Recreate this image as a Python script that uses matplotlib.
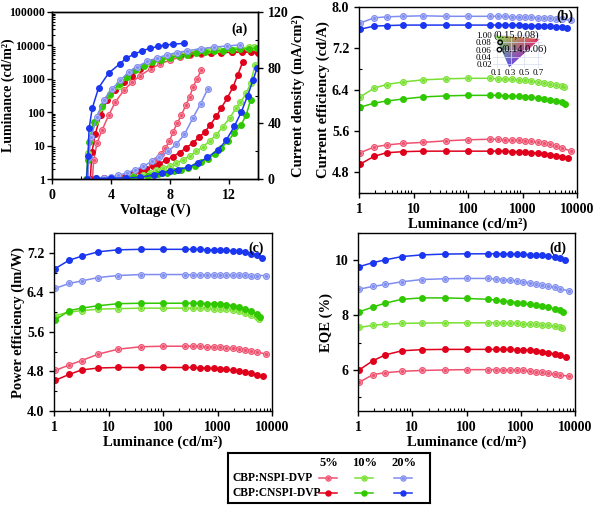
import numpy as np
import matplotlib
matplotlib.use('Agg')
import matplotlib.pyplot as plt
from matplotlib.patches import Polygon
from matplotlib.ticker import FixedLocator, MultipleLocator, NullFormatter

plt.rcParams['font.family'] = ['Liberation Serif', 'DejaVu Serif']
plt.rcParams['font.weight'] = 'bold'
plt.rcParams['axes.labelweight'] = 'bold'
plt.rcParams['axes.linewidth'] = 1.0

# ---- colours per series (5%, 10%, 20%) ----
col_open = ['#f0506e', '#78e030', '#7f8cf0']
face_open = ['#f7a8b8', '#b8f090', '#c0c8f8']
col_fill = ['#e0001b', '#30c800', '#1a36f0']

# ---- panel (a): luminance vs voltage ----
v_lum_open = [
    [2.75, 2.83, 3.06, 3.4, 3.85, 4.3, 4.88, 5.44, 6.0, 6.7, 7.37, 8.05, 8.73, 9.4, 10.1, 10.8, 11.5, 12.2, 12.9, 13.5, 13.9],
    [2.38, 2.43, 2.6, 2.95, 3.4, 3.97, 4.54, 5.1, 5.78, 6.46, 7.14, 7.8, 8.5, 9.2, 9.9, 10.6, 11.3, 12.0, 12.7, 13.4, 13.7],
    [2.45, 2.5, 2.65, 3.06, 3.5, 4.08, 4.65, 5.2, 5.78, 6.46, 7.14, 7.8, 8.5, 9.2, 10.1, 11.0, 11.9, 12.8],
]
lum_open = [
    [1, 3.6, 12, 29, 81, 200, 450, 800, 1250, 2000, 2800, 3700, 4400, 5100, 5600, 6000, 6300, 6500, 6600, 6700, 6700],
    [1, 6, 15, 52, 145, 320, 600, 1100, 2000, 2900, 3900, 4700, 5500, 6200, 6800, 7300, 7800, 8200, 8500, 8700, 8800],
    [1, 4.7, 18.5, 73, 230, 500, 900, 1600, 2300, 3300, 4200, 5200, 6100, 6900, 7900, 8900, 9600, 10400],
]
v_lum_fill = [
    [2.6, 2.72, 2.95, 3.3, 3.74, 4.3, 4.88, 5.44, 6.0, 6.7, 7.37, 8.05, 8.73, 9.4, 10.1, 10.8, 11.5, 12.2, 12.9, 13.5, 14.0],
    [2.33, 2.43, 2.52, 2.83, 3.4, 3.97, 4.54, 5.1, 5.67, 6.24, 6.8, 7.4, 8.0, 8.6, 9.2, 9.8, 10.4, 11.0, 11.6, 12.2, 12.8, 13.4, 13.9],
    [2.35, 2.45, 2.52, 2.74, 3.17, 3.85, 4.6, 5.06, 5.6, 6.12, 6.64, 7.19, 7.71, 8.23, 8.98],
]
lum_fill = [
    [1, 6.6, 23, 80, 230, 450, 800, 1250, 2000, 2800, 3700, 4400, 5000, 5500, 5800, 6000, 6100, 6200, 6200, 6200, 6100],
    [1, 3.7, 13, 52, 150, 360, 680, 1100, 1800, 2500, 3100, 3700, 4300, 4800, 5300, 5800, 6200, 6600, 7000, 7400, 7700, 8000, 8100],
    [1, 5, 33, 134, 540, 1480, 2780, 4200, 5500, 6900, 8100, 9300, 10200, 10900, 11500],
]

# ---- panel (a): current density vs voltage ----
v_j_open = [
    [3.0, 3.5, 4.0, 4.5, 5.0, 5.5, 6.0, 6.4, 6.8, 7.07, 7.38, 7.68, 7.97, 8.24, 8.5, 8.8, 9.09, 9.36, 9.58, 9.85, 10.14],
    [3.5, 4.5, 5.5, 6.2, 6.65, 7.1, 7.55, 8.0, 8.45, 8.9, 9.36, 9.8, 10.27, 10.72, 11.17, 11.6, 12.07, 12.5, 12.8, 13.2, 13.5, 13.8],
    [3.0, 3.5, 4.0, 4.5, 5.07, 5.64, 6.2, 6.77, 7.3, 7.9, 8.45, 9.0, 9.58, 10.1, 10.6],
]
j_open = [
    [0.3, 0.5, 0.8, 1.2, 1.8, 3.0, 4.8, 7.0, 11, 14, 18, 22, 27, 34, 40, 46, 53, 59, 66, 72, 78],
    [0.3, 0.8, 1.8, 3.2, 4.5, 6.2, 7.9, 9.5, 11.5, 13.8, 16.7, 19.8, 23.3, 27.4, 31.7, 37.6, 43.7, 51, 55, 61.5, 69, 82],
    [0.5, 0.9, 1.5, 2.6, 4.3, 6.7, 9.0, 12.6, 16, 20, 25, 32, 44, 54, 65],
]
v_j_fill = [
    [3.0, 3.5, 4.0, 4.5, 5.0, 5.5, 5.95, 6.4, 6.85, 7.3, 7.76, 8.2, 8.67, 9.13, 9.58, 10.0, 10.4, 10.76, 11.17, 11.5, 11.9, 12.3, 12.63, 12.96],
    [3.5, 4.5, 5.5, 6.5, 7.2, 7.8, 8.3, 8.8, 9.25, 9.7, 10.16, 10.6, 11.05, 11.5, 11.96, 12.4, 12.86, 13.2, 13.5],
    [3.0, 4.0, 5.0, 6.0, 6.9, 7.45, 8.0, 8.57, 9.25, 9.95, 10.56, 11.3, 11.85, 12.4, 12.86, 13.3, 13.66, 13.95],
]
j_fill = [
    [0.2, 0.4, 0.8, 1.5, 2.5, 4.0, 5.5, 7.0, 9.0, 11, 13.5, 16, 19, 22.5, 26, 30, 34, 39, 45, 51, 58, 66, 75, 84],
    [0.3, 0.6, 1.2, 2.2, 3.3, 4.5, 5.5, 6.4, 7.9, 9.7, 12, 14.5, 18, 22, 27.5, 33, 39, 46, 57],
    [0.5, 0.6, 0.8, 1.2, 2.8, 4.3, 5.4, 6.7, 8.6, 11.5, 15.5, 21, 28, 38, 48, 60, 71, 80],
]

# ---- panels (b)-(d): efficiencies vs luminance ----
lum_grid = [1.05, 1.9, 3.2, 6.5, 15, 40, 100, 250, 350, 480, 640, 850, 1100, 1450, 1900, 2500, 3200, 4200, 5400]
lum_end_open = [7800, 5800, 7800]
lum_end_fill = [6800, 6000, 6500]

ce_open = [
    [5.18, 5.29, 5.33, 5.36, 5.38, 5.41, 5.43, 5.44, 5.44, 5.43, 5.43, 5.42, 5.41, 5.40, 5.38, 5.36, 5.34, 5.31, 5.27, 5.21],
    [6.26, 6.43, 6.50, 6.55, 6.59, 6.61, 6.62, 6.62, 6.61, 6.61, 6.60, 6.59, 6.58, 6.57, 6.55, 6.53, 6.51, 6.49, 6.47, 6.45],
    [7.69, 7.79, 7.81, 7.82, 7.83, 7.82, 7.82, 7.82, 7.82, 7.82, 7.81, 7.81, 7.80, 7.80, 7.79, 7.79, 7.78, 7.77, 7.76, 7.74],
]
ce_fill = [
    [4.96, 5.11, 5.18, 5.20, 5.21, 5.21, 5.21, 5.21, 5.21, 5.21, 5.20, 5.20, 5.19, 5.18, 5.17, 5.15, 5.14, 5.12, 5.10, 5.08],
    [6.06, 6.14, 6.18, 6.22, 6.26, 6.28, 6.29, 6.29, 6.29, 6.28, 6.28, 6.27, 6.26, 6.25, 6.24, 6.22, 6.20, 6.18, 6.16, 6.13],
    [7.57, 7.63, 7.64, 7.65, 7.65, 7.65, 7.65, 7.65, 7.65, 7.65, 7.65, 7.65, 7.64, 7.64, 7.64, 7.63, 7.63, 7.62, 7.61, 7.60],
]
pe_open = [
    [4.82, 4.93, 5.02, 5.15, 5.25, 5.30, 5.31, 5.31, 5.31, 5.31, 5.30, 5.30, 5.29, 5.28, 5.27, 5.26, 5.24, 5.22, 5.19, 5.15],
    [5.93, 6.00, 6.03, 6.06, 6.07, 6.08, 6.08, 6.08, 6.08, 6.08, 6.08, 6.07, 6.07, 6.06, 6.04, 6.02, 5.99, 5.95, 5.91, 5.86],
    [6.48, 6.58, 6.63, 6.70, 6.74, 6.76, 6.76, 6.76, 6.75, 6.75, 6.75, 6.75, 6.75, 6.75, 6.75, 6.75, 6.75, 6.74, 6.74, 6.74],
]
pe_fill = [
    [4.62, 4.74, 4.83, 4.87, 4.88, 4.88, 4.88, 4.88, 4.88, 4.87, 4.87, 4.86, 4.85, 4.84, 4.82, 4.80, 4.78, 4.76, 4.73, 4.70],
    [5.84, 6.03, 6.08, 6.13, 6.17, 6.18, 6.18, 6.18, 6.18, 6.18, 6.17, 6.17, 6.16, 6.15, 6.13, 6.10, 6.06, 6.02, 5.97, 5.91],
    [6.88, 7.05, 7.13, 7.22, 7.26, 7.27, 7.27, 7.27, 7.27, 7.27, 7.26, 7.26, 7.25, 7.25, 7.24, 7.23, 7.21, 7.18, 7.15, 7.10],
]
eqe_open = [
    [5.55, 5.83, 5.90, 5.95, 5.98, 6.00, 6.01, 6.01, 6.01, 6.01, 6.00, 5.99, 5.98, 5.96, 5.94, 5.91, 5.88, 5.84, 5.81, 5.77],
    [7.55, 7.63, 7.67, 7.70, 7.71, 7.72, 7.72, 7.72, 7.72, 7.71, 7.71, 7.70, 7.69, 7.68, 7.67, 7.65, 7.63, 7.60, 7.57, 7.53],
    [8.95, 9.05, 9.12, 9.22, 9.30, 9.33, 9.34, 9.34, 9.32, 9.30, 9.28, 9.25, 9.22, 9.18, 9.14, 9.10, 9.06, 9.01, 8.96, 8.88],
]
eqe_fill = [
    [6.00, 6.34, 6.55, 6.70, 6.74, 6.75, 6.75, 6.75, 6.75, 6.75, 6.75, 6.74, 6.73, 6.72, 6.70, 6.67, 6.63, 6.58, 6.53, 6.46],
    [8.12, 8.30, 8.44, 8.58, 8.63, 8.63, 8.61, 8.58, 8.55, 8.52, 8.49, 8.46, 8.43, 8.40, 8.36, 8.32, 8.28, 8.23, 8.18, 8.13],
    [9.77, 9.92, 10.02, 10.14, 10.20, 10.23, 10.24, 10.24, 10.24, 10.24, 10.23, 10.23, 10.22, 10.21, 10.20, 10.18, 10.15, 10.12, 10.07, 10.00],
]

# CIE inset
cie_x = [0.15, 0.14]
cie_y = [0.08, 0.06]
cie_labels = ['(0.15,0.08)', '(0.14,0.06)']
tri_x = [0.075, 0.72, 0.28]
tri_y = [0.100, 0.089, 0.012]

concs = ['5%', '10%', '20%']
rows = ['CBP:NSPI-DVP', 'CBP:CNSPI-DVP']

W, H = 600, 505
fig = plt.figure(figsize=(6.0, 5.05), dpi=100)


def box(l, t, r, b):
    return [l / W, 1 - b / H, (r - l) / W, (b - t) / H]


def draw(ax, x, y, i, is_open, ms=4.2):
    if is_open:
        ax.plot(x, y, '-o', color=col_open[i], lw=1.1, ms=ms, mfc=face_open[i],
                mec=col_open[i], mew=0.8)
        ax.plot(x, y, 'o', color=col_open[i], ms=ms * 0.32, lw=0)
    else:
        ax.plot(x, y, '-o', color=col_fill[i], lw=1.1, ms=ms * 0.95, mfc=col_fill[i],
                mec=col_fill[i])


def style(ax):
    ax.tick_params(which='major', direction='out', length=3.5, width=1, labelsize=10)
    ax.tick_params(which='minor', direction='in', length=2, width=0.8)


def lum_axis(ax):
    ax.set_xscale('log')
    ax.set_xlim(1, 10000)
    ax.xaxis.set_major_locator(FixedLocator([1, 10, 100, 1000, 10000]))
    ax.set_xticklabels(['1', '10', '100', '1000', '10000'])
    ax.xaxis.set_minor_formatter(NullFormatter())
    ax.set_xlabel('Luminance (cd/m²)', fontsize=10.5, labelpad=1)


# ---- (a) ----
ax = fig.add_axes(box(52, 12, 258, 179))
ax2 = ax.twinx()
for i in range(3):
    draw(ax, v_lum_open[i], lum_open[i], i, True)
    draw(ax, v_lum_fill[i], lum_fill[i], i, False)
    draw(ax2, v_j_open[i], j_open[i], i, True)
    draw(ax2, v_j_fill[i], j_fill[i], i, False)
ax.set_yscale('log')
ax.set_ylim(1, 100000)
ax.set_xlim(0, 14)
ax.yaxis.set_major_locator(FixedLocator([1, 10, 100, 1000, 10000, 100000]))
ax.set_yticklabels(['1', '10', '100', '1000', '10000', '100000'])
ax.yaxis.set_minor_formatter(NullFormatter())
ax.xaxis.set_major_locator(MultipleLocator(4))
ax.xaxis.set_minor_locator(MultipleLocator(2))
ax2.set_ylim(0, 120)
ax2.yaxis.set_major_locator(MultipleLocator(40))
ax2.yaxis.set_minor_locator(MultipleLocator(20))
ax.set_xlabel('Voltage (V)', fontsize=10.5, labelpad=1)
ax.set_ylabel('Luminance (cd/m²)', fontsize=10)
ax.yaxis.set_label_coords(-0.178, 0.5)
ax2.set_ylabel('Current density (mA/cm²)', fontsize=10.5, labelpad=2)
style(ax)
style(ax2)
ax.tick_params(axis='y', which='major', labelsize=8.5, pad=1.5)
ax.text(0.95, 0.94, '(a)', transform=ax.transAxes, ha='right', va='top', fontsize=10)

# ---- (b) ----
axb = fig.add_axes(box(359, 7, 577, 193))
for i in range(3):
    draw(axb, lum_grid + [lum_end_open[i]], ce_open[i], i, True)
    draw(axb, lum_grid + [lum_end_fill[i]], ce_fill[i], i, False)
lum_axis(axb)
axb.set_ylim(4.4, 8.0)
axb.set_yticks([4.8, 5.6, 6.4, 7.2, 8.0])
axb.set_yticklabels(['4.8', '5.6', '6.4', '7.2', '8.0'])
axb.yaxis.set_minor_locator(MultipleLocator(0.4))
axb.set_ylabel('Current efficiency (cd/A)', fontsize=10.5, labelpad=1)
style(axb)
axb.text(0.985, 0.985, '(b)', transform=axb.transAxes, ha='right', va='top', fontsize=10)

# CIE inset
axi = fig.add_axes(box(493.2, 33.2, 541.8, 68))
axi.set_xlim(0.05, 0.75)
axi.set_ylim(0.01, 0.105)
gx, gy = np.meshgrid(np.linspace(0.05, 0.75, 120), np.linspace(0.01, 0.105, 80))
det = (tri_y[1] - tri_y[2]) * (tri_x[0] - tri_x[2]) + (tri_x[2] - tri_x[1]) * (tri_y[0] - tri_y[2])
w0 = ((tri_y[1] - tri_y[2]) * (gx - tri_x[2]) + (tri_x[2] - tri_x[1]) * (gy - tri_y[2])) / det
w1 = ((tri_y[2] - tri_y[0]) * (gx - tri_x[2]) + (tri_x[0] - tri_x[2]) * (gy - tri_y[2])) / det
w2 = 1 - w0 - w1
rgb = np.clip(np.stack([0.95 * w1 + 0.55 * w0 + 0.35 * w2,
                        0.9 * w0 + 0.2 * w1 + 0.3 * w2,
                        0.3 * w0 + 0.35 * w1 + 0.95 * w2], axis=-1), 0, 1)
img = axi.imshow(rgb, extent=(0.05, 0.75, 0.01, 0.105), origin='lower', aspect='auto', zorder=1)
tri = Polygon(np.column_stack([tri_x, tri_y]), closed=True, transform=axi.transData, fc='none', ec='none')
axi.add_patch(tri)
img.set_clip_path(tri)
axi.scatter(cie_x, cie_y, s=10, facecolors='none', edgecolors='black', linewidths=1.0, zorder=3)
axi.text(0.055, 0.0985, cie_labels[0], fontsize=7.5, weight='normal', va='center', zorder=4)
axi.text(0.165, cie_y[1], cie_labels[1], fontsize=7.5, weight='normal', va='center', zorder=4)
axi.set_xticks([0.1, 0.3, 0.5, 0.7])
axi.set_xticklabels(['0.1', '0.3', '0.5', '0.7'])
axi.set_yticks([0.02, 0.04, 0.06, 0.08, 0.10])
axi.set_yticklabels(['0.02', '0.04', '0.06', '0.08', '1.00'])
axi.tick_params(length=0, labelsize=6.5, pad=1)
for t in axi.get_xticklabels() + axi.get_yticklabels():
    t.set_fontweight('normal')
axi.grid(color='#d8dcf0', lw=0.5)
for s in axi.spines.values():
    s.set_visible(False)
axi.patch.set_alpha(0)

# ---- (c) ----
axc = fig.add_axes(box(54, 233, 272, 411))
for i in range(3):
    draw(axc, lum_grid + [lum_end_open[i]], pe_open[i], i, True)
    draw(axc, lum_grid + [lum_end_fill[i]], pe_fill[i], i, False)
lum_axis(axc)
axc.set_ylim(4.0, 7.6)
axc.set_yticks([4.0, 4.8, 5.6, 6.4, 7.2])
axc.yaxis.set_minor_locator(MultipleLocator(0.4))
axc.set_ylabel('Power efficiency (lm/W)', fontsize=10.5, labelpad=1)
style(axc)
axc.text(0.96, 0.95, '(c)', transform=axc.transAxes, ha='right', va='top', fontsize=10)

# ---- (d) ----
axd = fig.add_axes(box(358, 233, 575, 411))
for i in range(3):
    draw(axd, lum_grid + [lum_end_open[i]], eqe_open[i], i, True)
    draw(axd, lum_grid + [lum_end_fill[i]], eqe_fill[i], i, False)
lum_axis(axd)
axd.set_ylim(4.5, 11.0)
axd.set_yticks([6, 8, 10])
axd.yaxis.set_minor_locator(MultipleLocator(1))
axd.set_ylabel('EQE (%)', fontsize=10.5, labelpad=1)
style(axd)
axd.text(0.96, 0.95, '(d)', transform=axd.transAxes, ha='right', va='top', fontsize=10)

# ---- legend box ----
axl = fig.add_axes(box(228, 453, 430, 503))
axl.set_xlim(0, 1)
axl.set_ylim(0, 1)
axl.set_xticks([])
axl.set_yticks([])
for s in axl.spines.values():
    s.set_linewidth(1.5)
col_x = [0.495, 0.673, 0.866]
row_y = [0.50, 0.20]
for k, c in enumerate(concs):
    axl.text(col_x[k] + 0.005, 0.80, c, ha='center', va='center', fontsize=9)
for r, name in enumerate(rows):
    axl.text(0.02, row_y[r], name, ha='left', va='center', fontsize=8.3)
    for k in range(3):
        axl.plot([col_x[k] - 0.045, col_x[k] + 0.045], [row_y[r]] * 2, '-',
                 color=col_open[k] if r == 0 else col_fill[k], lw=1.1)
        draw(axl, [col_x[k]], [row_y[r]], k, r == 0, ms=3.8)

fig.savefig('out.png', dpi=100)
